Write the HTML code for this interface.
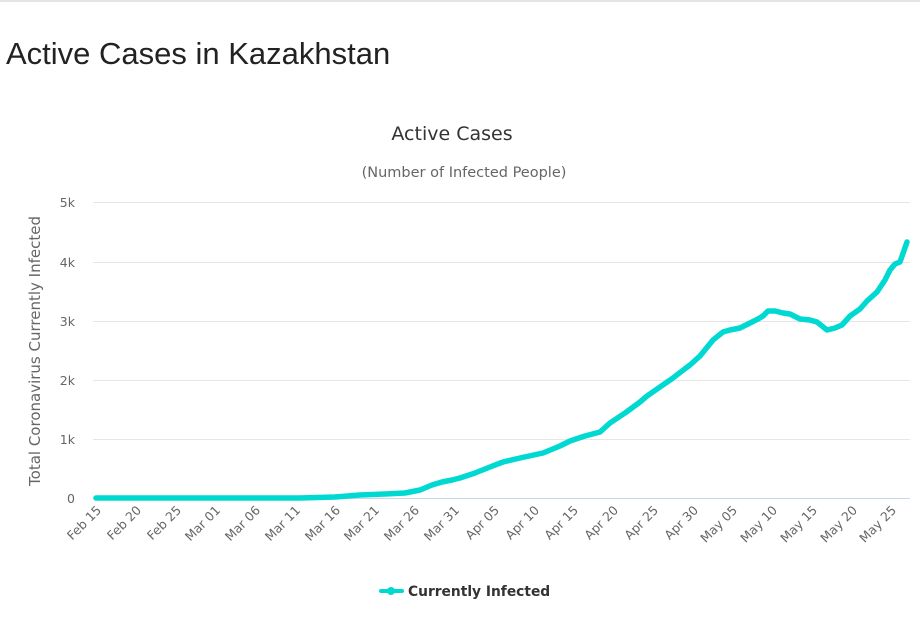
<!DOCTYPE html>
<html><head><meta charset="utf-8"><style>
html,body{margin:0;padding:0;background:#fff;width:920px;height:644px;overflow:hidden}
</style></head><body>
<svg width="920" height="644" xmlns="http://www.w3.org/2000/svg" style="position:absolute;left:0;top:0">
<rect x="0" y="0" width="920" height="2" fill="#e4e4e4"/>
<text x="6" y="64" font-family="Liberation Sans, sans-serif" font-size="31" fill="#222">Active Cases in Kazakhstan</text>
<text x="452" y="140" text-anchor="middle" font-family="DejaVu Sans, sans-serif" font-size="19" fill="#333">Active Cases</text>
<text x="464" y="177" text-anchor="middle" font-family="DejaVu Sans, sans-serif" font-size="14.5" fill="#666">(Number of Infected People)</text>
<g stroke="#e6e6e6" stroke-width="1">
<line x1="93" x2="910" y1="202.5" y2="202.5"/>
<line x1="93" x2="910" y1="262.5" y2="262.5"/>
<line x1="93" x2="910" y1="321.5" y2="321.5"/>
<line x1="93" x2="910" y1="380.5" y2="380.5"/>
<line x1="93" x2="910" y1="439.5" y2="439.5"/>
</g>
<line x1="93" x2="910" y1="498.5" y2="498.5" stroke="#ccd6eb"/>
<g font-family="DejaVu Sans, sans-serif" font-size="12.5" fill="#666" text-anchor="end">
<text x="75" y="207">5k</text><text x="75" y="267">4k</text><text x="75" y="326">3k</text>
<text x="75" y="385">2k</text><text x="75" y="444">1k</text><text x="75" y="503">0</text>
</g>
<text transform="translate(40,351) rotate(-90)" text-anchor="middle" font-family="DejaVu Sans, sans-serif" font-size="15" fill="#666">Total Coronavirus Currently Infected</text>
<g font-family="DejaVu Sans, sans-serif" font-size="12.5" fill="#666" text-anchor="end">
<text transform="translate(102,511) rotate(-45)">Feb 15</text>
<text transform="translate(142,511) rotate(-45)">Feb 20</text>
<text transform="translate(182,511) rotate(-45)">Feb 25</text>
<text transform="translate(221,511) rotate(-45)">Mar 01</text>
<text transform="translate(261,511) rotate(-45)">Mar 06</text>
<text transform="translate(301,511) rotate(-45)">Mar 11</text>
<text transform="translate(341,511) rotate(-45)">Mar 16</text>
<text transform="translate(380,511) rotate(-45)">Mar 21</text>
<text transform="translate(420,511) rotate(-45)">Mar 26</text>
<text transform="translate(460,511) rotate(-45)">Mar 31</text>
<text transform="translate(500,511) rotate(-45)">Apr 05</text>
<text transform="translate(540,511) rotate(-45)">Apr 10</text>
<text transform="translate(579,511) rotate(-45)">Apr 15</text>
<text transform="translate(619,511) rotate(-45)">Apr 20</text>
<text transform="translate(659,511) rotate(-45)">Apr 25</text>
<text transform="translate(699,511) rotate(-45)">Apr 30</text>
<text transform="translate(738,511) rotate(-45)">May 05</text>
<text transform="translate(778,511) rotate(-45)">May 10</text>
<text transform="translate(818,511) rotate(-45)">May 15</text>
<text transform="translate(858,511) rotate(-45)">May 20</text>
<text transform="translate(897,511) rotate(-45)">May 25</text>
</g>
<polyline fill="none" stroke="#00d9d2" stroke-width="5.5" stroke-linejoin="round" stroke-linecap="round"
points="96,498 300,498 335,497 360,495 385,494 405,493 420,490 432,485 442,482 452,480 460,478 475,473 490,467 503,462 520,458 543,453 560,446 570,441 585,436 600,432 610,423 625,413 640,402 647,396 660,387 673,378 682,371 690,365 700,356 713,340 723,332 730,330 740,328 750,323 758,319 763,316 768,311 775,311 783,313 790,314 800,319 810,320 817,322 827,330 835,328 842,325 850,316 860,309 867,301 877,292 885,280 890,270 895,264 900,262 907,242"/>
<line x1="381" x2="402" y1="591" y2="591" stroke="#00d9d2" stroke-width="4" stroke-linecap="round"/>
<circle cx="391" cy="591" r="4" fill="#00d9d2"/>
<text x="408" y="596" font-family="DejaVu Sans, sans-serif" font-size="13.8" font-weight="bold" fill="#333">Currently Infected</text>
</svg>
</body></html>
